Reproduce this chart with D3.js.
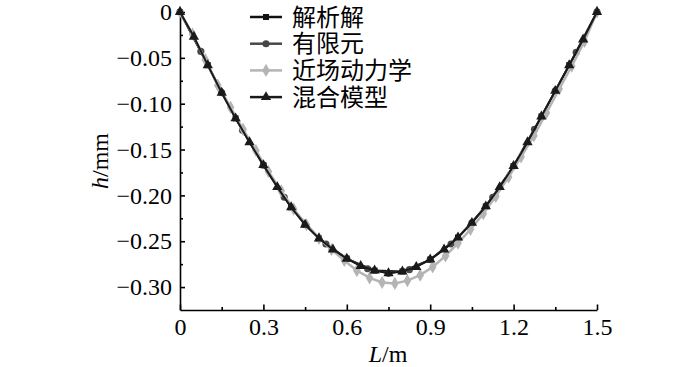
<!DOCTYPE html>
<html>
<head>
<meta charset="utf-8">
<script src="https://cdn.jsdelivr.net/npm/d3@7"></script>
<style>
body { margin:0; background:#fff; }
</style>
</head>
<body>
<div id="chart"></div>
<script>
// series names (legend order)
var seriesNames = ["解析解", "有限元", "近场动力学", "混合模型"];

// 解析解 (squares)
var lAnalytic = [0,0.1,0.2,0.3,0.4,0.5,0.6,0.7,0.8,0.9,1.0,1.1,1.2,1.3,1.4,1.5];
var hAnalytic = [0,-0.058,-0.116,-0.167,-0.213,-0.247,-0.269,-0.282,-0.283,-0.270,-0.246,-0.212,-0.168,-0.114,-0.058,0];

// 有限元 (circles)
var lFem = [0,0.075,0.15,0.225,0.3,0.375,0.45,0.525,0.6,0.675,0.75,0.825,0.9,0.975,1.05,1.125,1.2,1.275,1.35,1.425,1.5];
var hFem = [0,-0.043,-0.088,-0.129,-0.167,-0.202,-0.232,-0.253,-0.269,-0.280,-0.285,-0.281,-0.270,-0.253,-0.230,-0.202,-0.168,-0.128,-0.086,-0.044,0];

// 近场动力学 (diamonds)
var lPd = [0,0.045,0.091,0.136,0.182,0.227,0.273,0.318,0.364,0.409,0.455,0.500,0.545,0.591,0.636,0.682,0.727,
           0.773,0.818,0.864,0.909,0.955,1.000,1.045,1.091,1.136,1.182,1.227,1.273,1.318,1.364,1.409,1.455,1.500];
var hPd = [0,-0.024,-0.052,-0.080,-0.104,-0.128,-0.151,-0.174,-0.195,-0.215,-0.232,-0.247,-0.259,-0.271,-0.282,-0.290,-0.295,
           -0.296,-0.293,-0.287,-0.278,-0.266,-0.252,-0.237,-0.220,-0.201,-0.180,-0.158,-0.135,-0.110,-0.084,-0.059,-0.032,0];

// 混合模型 (triangles)
var lMixed = [0,0.05,0.1,0.15,0.2,0.25,0.3,0.35,0.4,0.45,0.5,0.55,0.6,0.65,0.7,0.75,0.8,0.85,0.9,0.95,1.0,1.05,1.1,1.15,1.2,1.25,1.3,1.35,1.4,1.45,1.5];
var hMixed = [0,-0.027,-0.058,-0.088,-0.116,-0.142,-0.167,-0.191,-0.213,-0.232,-0.247,-0.259,-0.269,-0.277,-0.282,-0.285,
              -0.283,-0.278,-0.270,-0.259,-0.246,-0.230,-0.212,-0.191,-0.168,-0.142,-0.114,-0.086,-0.058,-0.030,0];

var xTicks = [0,0.3,0.6,0.9,1.2,1.5];
var xMinor = [0.15,0.45,0.75,1.05,1.35];
var yTicks = [0,-0.05,-0.10,-0.15,-0.20,-0.25,-0.30];
var yMinor = [-0.025,-0.075,-0.125,-0.175,-0.225,-0.275];

var W = 700, H = 367;
var svg = d3.select("#chart").append("svg")
    .attr("width", W)
    .attr("height", H);

var x = d3.scaleLinear().domain([0, 1.5]).range([180, 597]);
var y = d3.scaleLinear().domain([-0.325, 0]).range([310, 12]);

var serif = "'Liberation Serif','Times New Roman',serif";

// axes
var xAxisCall = d3.axisBottom(x)
    .tickValues(xTicks)
    .tickSizeInner(-5.5)
    .tickSizeOuter(0)
    .tickPadding(8)
    .tickFormat(function(d){ return d === 0 ? "0" : d3.format(".1f")(d); });
svg.append("g")
    .attr("transform", "translate(0,310)")
    .call(xAxisCall);
svg.append("g")
    .attr("transform", "translate(0,310)")
    .call(d3.axisBottom(x).tickValues(xMinor).tickSizeInner(-3).tickSizeOuter(0).tickFormat(""))
    .select(".domain").remove();

var yAxisCall = d3.axisLeft(y)
    .tickValues(yTicks)
    .tickSizeInner(-5)
    .tickSizeOuter(0)
    .tickPadding(8)
    .tickFormat(function(d){ return d === 0 ? "0" : d3.format(".2f")(d); });
svg.append("g")
    .attr("transform", "translate(180,0)")
    .call(yAxisCall);
svg.append("g")
    .attr("transform", "translate(180,0)")
    .call(d3.axisLeft(y).tickValues(yMinor).tickSizeInner(-3).tickSizeOuter(0).tickFormat(""))
    .select(".domain").remove();

svg.selectAll(".domain, .tick line")
    .attr("stroke", "#000")
    .attr("stroke-width", 1.6);
svg.selectAll(".tick text")
    .attr("fill", "#000")
    .style("font-family", serif)
    .style("font-size", "24px");

// axis labels
var xl = svg.append("text")
    .attr("x", 388)
    .attr("y", 362)
    .attr("text-anchor", "middle")
    .style("font-family", serif)
    .style("font-size", "24px");
xl.append("tspan").style("font-style", "italic").text("L");
xl.append("tspan").text("/m");

var yl = svg.append("text")
    .attr("transform", "translate(108,161) rotate(-90)")
    .attr("text-anchor", "middle")
    .style("font-family", serif)
    .style("font-size", "24px");
yl.append("tspan").style("font-style", "italic").text("h");
yl.append("tspan").text("/mm");

// series
var series = [
    { name: seriesNames[0], l: lAnalytic, h: hAnalytic, color: "#111", sym: d3.symbolSquare, size: 36, lw: 2 },
    { name: seriesNames[1], l: lFem, h: hFem, color: "#474747", sym: d3.symbolCircle, size: 40, lw: 2 },
    { name: seriesNames[2], l: lPd, h: hPd, color: "#b4b4b4", sym: d3.symbolDiamond, size: 50, lw: 2.5 },
    { name: seriesNames[3], l: lMixed, h: hMixed, color: "#1a1a1a", sym: d3.symbolTriangle, size: 46, lw: 2 }
];

var line = d3.line()
    .x(function(d){ return x(d[0]); })
    .y(function(d){ return y(d[1]); });

series.forEach(function(s){
    var pts = s.l.map(function(v, i){ return [v, s.h[i]]; });
    svg.append("path")
        .attr("d", line(pts))
        .attr("fill", "none")
        .attr("stroke", s.color)
        .attr("stroke-width", s.lw);
    svg.selectAll(null)
        .data(pts)
        .enter()
        .append("path")
        .attr("transform", function(d){ return "translate(" + x(d[0]) + "," + y(d[1]) + ")"; })
        .attr("d", d3.symbol().type(s.sym).size(s.size))
        .attr("fill", s.color);
});

// legend
var legend = svg.append("g");
series.forEach(function(s, i){
    var cy = 17 + i * 26.7;
    legend.append("line")
        .attr("x1", 250).attr("x2", 282)
        .attr("y1", cy).attr("y2", cy)
        .attr("stroke", s.color)
        .attr("stroke-width", 2.5);
    legend.append("path")
        .attr("transform", "translate(266," + cy + ")")
        .attr("d", d3.symbol().type(s.sym).size(s.size))
        .attr("fill", s.color);
    legend.append("text")
        .attr("x", 292)
        .attr("y", cy)
        .attr("dy", "0.36em")
        .style("font-family", "'Liberation Serif','Noto Sans CJK SC', serif")
        .style("font-size", "24px")
        .text(s.name);
});
</script>
</body>
</html>
